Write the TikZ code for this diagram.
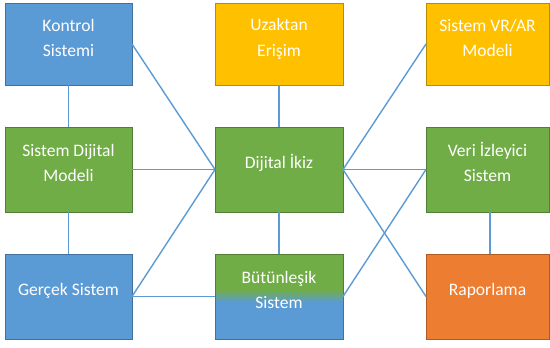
\documentclass[tikz,border=0pt]{standalone}
\usepackage{fontspec}
\setmainfont{Carlito}
\definecolor{cblue}{HTML}{5B9BD5}
\definecolor{cblueD}{HTML}{41719C}
\definecolor{cgold}{HTML}{FFC000}
\definecolor{cgoldD}{HTML}{BC8C00}
\definecolor{cgreen}{HTML}{70AD47}
\definecolor{cgreenD}{HTML}{507E32}
\definecolor{corange}{HTML}{ED7D31}
\definecolor{corangeD}{HTML}{AE5A21}
\tikzset{
  box/.style={draw, line width=0.9bp, inner sep=0pt, outer sep=0pt},
  bluebox/.style={box, fill=cblue, draw=cblueD},
  goldbox/.style={box, fill=cgold, draw=cgoldD},
  greenbox/.style={box, fill=cgreen, draw=cgreenD},
  orangebox/.style={box, fill=corange, draw=corangeD},
  lbl/.style={anchor=base, align=center, text=white, inner sep=0pt,
    font=\fontsize{17.6}{25.1}\selectfont},
  conn/.style={draw=cblue, line width=1.4bp},
  c1/.style={minimum width=127bp},
  c2/.style={minimum width=128bp},
  c3/.style={minimum width=123bp},
  r1/.style={minimum height=82bp},
  r2/.style={minimum height=85bp},
}
\begin{document}
\begin{tikzpicture}[x=1bp,y=-1bp]
\useasboundingbox (0,0) rectangle (550,347);
% boxes
\node[bluebox,c1,r1] (kontrol) at (68.5,44) {};
\node[goldbox,c2,r1] (uzak) at (279,44) {};
\node[goldbox,c3,r1] (vrar) at (487.5,44) {};
\node[greenbox,c1,r2] (sdm) at (68.5,169.5) {};
\node[greenbox,c2,r2] (ikiz) at (279,169.5) {};
\node[greenbox,c3,r2] (veri) at (487.5,169.5) {};
\node[bluebox,c1,r2] (gercek) at (68.5,296.5) {};
\node[box,c2,r2,draw=none] (butun) at (279,296.5) {};
\node[orangebox,c3,r2] (rapor) at (487.5,296.5) {};
% gradient fill of Butunlesik Sistem
\fill[cgreen] (butun.north west) rectangle (343,290);
\shade[top color=cgreen, bottom color=cblue] (215,289.5) rectangle (343,302.5);
\fill[cblue] (215,302) rectangle (butun.south east);
\begin{scope}
  \clip (200,250) rectangle (360,296);
  \draw[line width=0.9bp, draw=cgreenD] (butun.north west) rectangle (butun.south east);
\end{scope}
\begin{scope}
  \clip (200,296) rectangle (360,345);
  \draw[line width=0.9bp, draw=cblueD] (butun.north west) rectangle (butun.south east);
\end{scope}
% connectors
\draw[conn] (kontrol.south) -- (sdm.north);
\draw[conn] (sdm.south) -- (gercek.north);
\draw[conn] (kontrol.east) -- (ikiz.west);
\draw[conn] (sdm.east) -- (ikiz.west);
\draw[conn] (gercek.east) -- (ikiz.west);
\draw[conn] (gercek.east) -- (butun.west);
\draw[conn] (uzak.south) -- (ikiz.north);
\draw[conn] (ikiz.south) -- (butun.north);
\draw[conn] (ikiz.east) -- (vrar.west);
\draw[conn] (ikiz.east) -- (veri.west);
\draw[conn] (ikiz.east) -- (rapor.west);
\draw[conn] (butun.east) -- (veri.west);
\draw[conn] ([xshift=2.5bp]veri.south) -- ([xshift=2.5bp]rapor.north);
% labels (base anchor = baseline of the last line)
\node[lbl] (kontrolT) at (68.5,56.5) {Kontrol\\Sistemi};
\node[lbl] (uzakT) at (279,56) {Uzaktan\\Erişim};
\node[lbl] (vrarT) at (487.5,56.5) {Sistem VR/AR\\Modeli};
\node[lbl] (sdmT) at (68.5,181.5) {Sistem Dijital\\Modeli};
\node[lbl] (ikizT) at (279,168) {Dijital İkiz};
\node[lbl] (veriT) at (487.5,181.5) {Veri İzleyici\\Sistem};
\node[lbl] (gercekT) at (68.5,295) {Gerçek Sistem};
\node[lbl] (butunT) at (279,308) {Bütünleşik\\Sistem};
\node[lbl] (raporT) at (487.5,295) {Raporlama};
\end{tikzpicture}
\end{document}
